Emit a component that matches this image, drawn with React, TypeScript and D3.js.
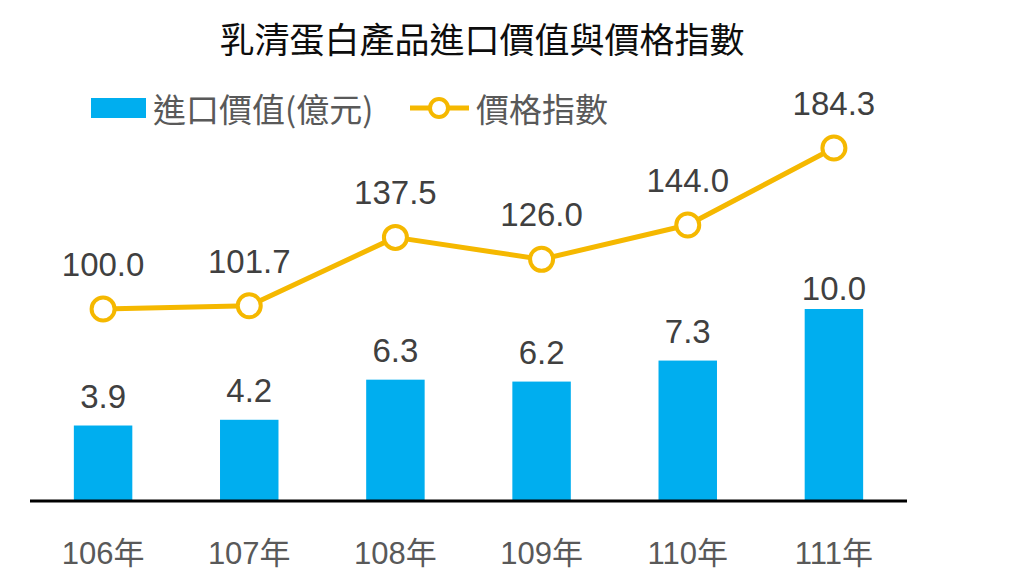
import React from "react";
import * as d3 from "d3";

const categories = ["106年", "107年", "108年", "109年", "110年", "111年"];
const importValues = [3.9, 4.2, 6.3, 6.2, 7.3, 10.0];
const priceIndex = [100.0, 101.7, 137.5, 126.0, 144.0, 184.3];
const title = "乳清蛋白產品進口價值與價格指數";
const legendBar = "進口價值(億元)";
const legendLine = "價格指數";

const W = 1017;
const H = 582;
const BAR = "#00AEEF";
const LINE = "#F5B800";
const LATIN = "'Liberation Sans', Arial, 'Noto Sans CJK TC', sans-serif";
const CJK = "'Noto Sans CJK TC', 'Noto Sans CJK SC', sans-serif";

export default function App() {
  const x = d3.scaleBand<string>().domain(categories).range([30, 907]).paddingInner(0.6).paddingOuter(0.3);
  const bw = x.bandwidth();
  const cx = (i: number) => (x(categories[i]) as number) + bw / 2;
  const yBar = d3.scaleLinear().domain([0, 20]).range([500, 118]);
  const yLine = d3.scaleLinear().domain([0, 200]).range([500, 118]);
  const line = d3
    .line<number>()
    .x((_, i) => cx(i))
    .y((d) => yLine(d));

  return (
    <svg width={W} height={H} style={{ position: "absolute", left: 0, top: 0, background: "#fff" }}>
      <text x={482} y={37} textAnchor="middle" dominantBaseline="central" fontFamily={CJK} fontSize={35} fill="#0d0d0d">
        {title}
      </text>

      {/* legend */}
      <rect x={91} y={98} width={55} height={20} fill={BAR} />
      <text x={153} y={108} dominantBaseline="central" fontFamily={CJK} fontSize={33} fill="#595959">
        {legendBar}
      </text>
      <line x1={410} x2={469} y1={108} y2={108} stroke={LINE} strokeWidth={5} />
      <circle cx={439} cy={108} r={9} fill="#fff" stroke={LINE} strokeWidth={4} />
      <text x={476} y={108} dominantBaseline="central" fontFamily={CJK} fontSize={33} fill="#595959">
        {legendLine}
      </text>

      {/* bars */}
      {importValues.map((v, i) => (
        <g key={"b" + i}>
          <rect x={cx(i) - bw / 2} y={yBar(v)} width={bw} height={yBar(0) - yBar(v)} fill={BAR} />
          <text
            x={cx(i)}
            y={yBar(v) - (i === importValues.length - 1 ? 9 : 18)}
            textAnchor="middle"
            fontFamily={LATIN}
            fontSize={33}
            fill="#404040"
          >
            {v.toFixed(1)}
          </text>
        </g>
      ))}

      {/* axis line */}
      <line x1={30} x2={907} y1={501} y2={501} stroke="#000" strokeWidth={3} />

      {/* category labels */}
      {categories.map((c, i) => (
        <text key={"c" + i} x={cx(i)} y={564} textAnchor="middle" fontFamily={LATIN} fontSize={31} fill="#595959">
          {c}
        </text>
      ))}

      {/* line */}
      <path d={line(priceIndex) || ""} fill="none" stroke={LINE} strokeWidth={5} strokeLinejoin="round" />
      {priceIndex.map((v, i) => (
        <g key={"p" + i}>
          <circle cx={cx(i)} cy={yLine(v)} r={11.5} fill="#fff" stroke={LINE} strokeWidth={4} />
          <text x={cx(i)} y={yLine(v) - 33} textAnchor="middle" fontFamily={LATIN} fontSize={33} fill="#404040">
            {v.toFixed(1)}
          </text>
        </g>
      ))}
    </svg>
  );
}
